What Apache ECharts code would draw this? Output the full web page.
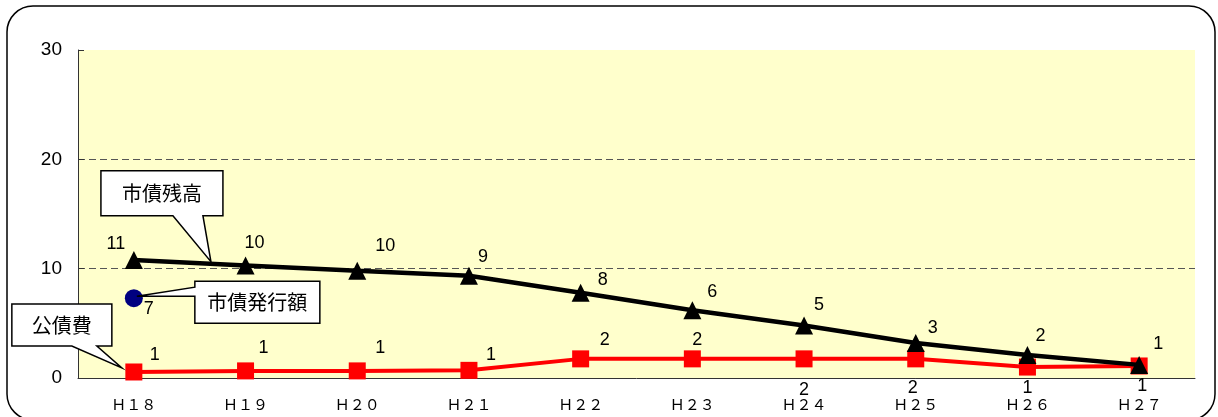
<!DOCTYPE html>
<html>
<head>
<meta charset="utf-8">
<script src="https://cdn.jsdelivr.net/npm/echarts@6/dist/echarts.min.js"></script>
<style>
	html, body { margin: 0; padding: 0; background: #fff; }
	#chart { width: 1218px; height: 417px; }
</style>
</head>
<body>
<div id="chart"></div>
<script>
// fiscal years (Heisei)
const categories = ['Ｈ１８', 'Ｈ１９', 'Ｈ２０', 'Ｈ２１', 'Ｈ２２', 'Ｈ２３', 'Ｈ２４', 'Ｈ２５', 'Ｈ２６', 'Ｈ２７']
// 市債残高
const debtBalance = [10.8, 10.3, 9.8, 9.35, 7.8, 6.2, 4.8, 3.2, 2.1, 1.2]
// 公債費
const debtService = [0.55, 0.65, 0.65, 0.7, 1.75, 1.75, 1.75, 1.75, 1.0, 1.1]
// 市債発行額 (only H18)
const bondIssue = [7.3, null, null, null, null, null, null, null, null, null]
const yTicks = [0, 10, 20, 30]

// label placement tweaks, per point
const balanceLabelOffsets = [[-18, -16], [9, -22], [28, -25], [14, -19], [22, -13], [20, -18], [15, -20], [17, -15], [13, -19], [19, -21]]
const serviceLabelOffsets = [[21, -17], [18, -23], [23, -23], [22, -15], [24, -19], [5, -19], [0, 31], [-3, 29], [0, 21], [3, 20]]

const chart = echarts.init(document.getElementById('chart'))

const labelFont = { fontFamily: 'Liberation Sans, Arial, sans-serif', fontSize: 18, color: '#000' }

function withLabels(values, offsets) {
	return values.map((v, i) => ({
		value: v,
		label: { offset: offsets[i] }
	}))
}

const option = {
	animation: false,
	grid: {
		left: 78,
		top: 50,
		right: 23,
		bottom: 39,
		show: true,
		backgroundColor: '#FFFFCC',
		borderWidth: 0
	},
	xAxis: {
		type: 'category',
		data: categories,
		boundaryGap: true,
		axisLine: { lineStyle: { color: '#333', width: 1 } },
		axisTick: { inside: true, length: 4, lineStyle: { color: '#333' } },
		axisLabel: {
			margin: 19,
			fontFamily: 'Noto Sans CJK JP',
			fontSize: 15,
			color: '#000'
		}
	},
	yAxis: {
		type: 'value',
		min: yTicks[0],
		max: yTicks[yTicks.length - 1],
		interval: 10,
		axisLine: { show: true, lineStyle: { color: '#333', width: 1 } },
		axisTick: { show: true, inside: true, length: 6, lineStyle: { color: '#333' } },
		axisLabel: {
			margin: 16,
			fontFamily: 'Liberation Sans, Arial, sans-serif',
			fontSize: 19,
			color: '#000'
		},
		splitLine: {
			show: true,
			showMinLine: false,
			showMaxLine: false,
			lineStyle: { color: '#555', type: [7, 4], width: 1 }
		}
	},
	series: [
		{
			name: '公債費',
			type: 'line',
			data: withLabels(debtService, serviceLabelOffsets),
			symbol: 'rect',
			symbolSize: 17,
			lineStyle: { color: '#FF0000', width: 4 },
			itemStyle: { color: '#FF0000' },
			label: {
				show: true,
				position: 'inside',
				formatter: (p) => Math.round(p.value),
				...labelFont
			},
			z: 2
		},
		{
			name: '市債残高',
			type: 'line',
			data: withLabels(debtBalance, balanceLabelOffsets),
			symbol: 'triangle',
			symbolSize: 18,
			lineStyle: { color: '#000', width: 4.5 },
			itemStyle: { color: '#000' },
			label: {
				show: true,
				position: 'inside',
				formatter: (p) => Math.round(p.value),
				...labelFont
			},
			z: 3
		},
		{
			name: '市債発行額',
			type: 'line',
			data: bondIssue,
			symbol: 'circle',
			symbolSize: 18,
			showSymbol: true,
			lineStyle: { width: 0 },
			itemStyle: { color: '#000080' },
			label: {
				show: true,
				position: 'inside',
				offset: [15, 11],
				formatter: (p) => Math.round(p.value),
				...labelFont
			},
			z: 3
		}
	]
}

chart.setOption(option)

// callouts anchored to the data through the chart's own scales
function px(seriesIndex, i, v) {
	return chart.convertToPixel({ seriesIndex }, [i, v])
}

function calloutText(box, text) {
	return {
		type: 'text',
		x: box.x + box.w / 2,
		y: box.y + box.h / 2,
		style: { text, fill: '#000', font: '20px "Noto Sans CJK JP"', align: 'center', verticalAlign: 'middle' },
		z: 21
	}
}

function calloutBottom(tip, box, base, text) {
	const L = box.x, T = box.y, R = box.x + box.w, B = box.y + box.h
	return [
		{
			type: 'polygon',
			shape: { points: [[L, T], [R, T], [R, B], [base[1], B], tip, [base[0], B], [L, B]] },
			style: { fill: '#fff', stroke: '#000', lineWidth: 1.5 },
			z: 20
		},
		calloutText(box, text)
	]
}

function calloutLeft(tip, box, base, text) {
	const L = box.x, T = box.y, R = box.x + box.w, B = box.y + box.h
	return [
		{
			type: 'polygon',
			shape: { points: [[L, T], [R, T], [R, B], [L, B], [L, base[1]], tip, [L, base[0]]] },
			style: { fill: '#fff', stroke: '#000', lineWidth: 1.5 },
			z: 20
		},
		calloutText(box, text)
	]
}

const b0 = px(1, 0, debtBalance[0])
const b1 = px(1, 1, debtBalance[1])
const t = 0.69
const balTip = [b0[0] + (b1[0] - b0[0]) * t, b0[1] + (b1[1] - b0[1]) * t - 2]
const issuePt = px(2, 0, bondIssue[0])
const issueTip = [issuePt[0] + 3, issuePt[1] - 2]
const svcPt = px(0, 0, debtService[0])
const svcTip = [svcPt[0] - 12, svcPt[1] - 4]

const graphics = [
	{
		type: 'rect',
		shape: { x: 7, y: 6, width: 1208, height: 414, r: 26 },
		style: { fill: 'none', stroke: '#000', lineWidth: 1.5 },
		z: 30,
		silent: true
	},
	...calloutBottom(balTip, { x: balTip[0] - 110, y: balTip[1] - 91, w: 122, h: 45 }, [balTip[0] - 38, balTip[0] - 8], '市債残高'),
	...calloutLeft(issueTip, { x: issueTip[0] + 58, y: issueTip[1] - 15, w: 125, h: 42 }, [issueTip[1] - 9, issueTip[1]], '市債発行額'),
	...calloutBottom(svcTip, { x: svcTip[0] - 110, y: svcTip[1] - 64, w: 100, h: 42 }, [svcTip[0] - 50, svcTip[0] - 25], '公債費')
]

chart.setOption({ graphic: graphics })

window.addEventListener('resize', () => chart.resize())
</script>
</body>
</html>
